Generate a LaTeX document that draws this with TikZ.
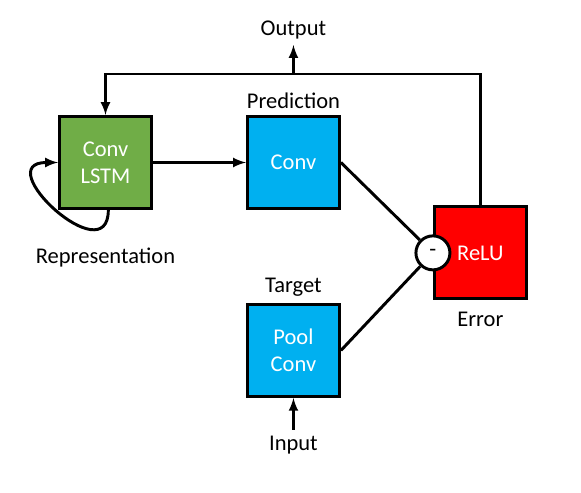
\documentclass[tikz,border=0pt]{standalone}
\usepackage{fontspec}
\setmainfont{Carlito}
\usetikzlibrary{positioning,shapes,arrows,calc}

\definecolor{lstmgreen}{HTML}{70AD47}
\definecolor{convblue}{HTML}{00B0F0}
\definecolor{errred}{HTML}{FF0000}

\begin{document}
\begin{tikzpicture}[
  node distance=2.325cm and 2.325cm,
  line width=2.1pt,
  block/.style={draw,line width=2.1pt,minimum size=2.3cm,text=white,align=center,font=\fontsize{16}{19}\selectfont},
  lbl/.style={font=\fontsize{16}{19}\selectfont}
]
\useasboundingbox (-2.6375,4.0625) rectangle (11.8875,-8.2375);

\node[block,fill=lstmgreen] (lstm) {Conv\\LSTM};
\node[block,fill=convblue,right=of lstm] (pred) {Conv};
\node[block,fill=convblue,below=of pred] (target) {Pool\\Conv};
\node[block,fill=errred,anchor=west] (relu) at ($(pred.east)!0.5!(target.east)+(2.3,0.09)$) {ReLU};
\node[draw,circle,fill=white,minimum size=0.85cm,inner sep=0pt,lbl] (minus) at (relu.west) {-};

\node[lbl,above=0pt of pred] (predlbl) {Prediction};
\node[lbl,above=0pt of target] (targetlbl) {Target};
\node[lbl,below=0.15cm of relu] (errlbl) {Error};
\node[lbl,below=0.8cm of lstm] (replbl) {Representation};
\node[lbl,below=0.8cm of target] (input) {Input};
\node[lbl,above=1.75cm of pred] (output) {Output};
\coordinate[above=1.025cm of lstm.north] (bus);

\path (lstm) edge[-latex] (pred)
(pred.east) edge (minus)
(target.east) edge (minus)
(input) edge[-latex] (target);

\draw[-latex] (relu.north) |- (bus) -- (lstm.north);
\draw[-latex] (bus -| pred.north) -- (output.south);
\draw[-latex] ([xshift=2pt]lstm.south) .. controls +(0,-1.6) and +(-1.75,0) .. (lstm.west);

\end{tikzpicture}
\end{document}
